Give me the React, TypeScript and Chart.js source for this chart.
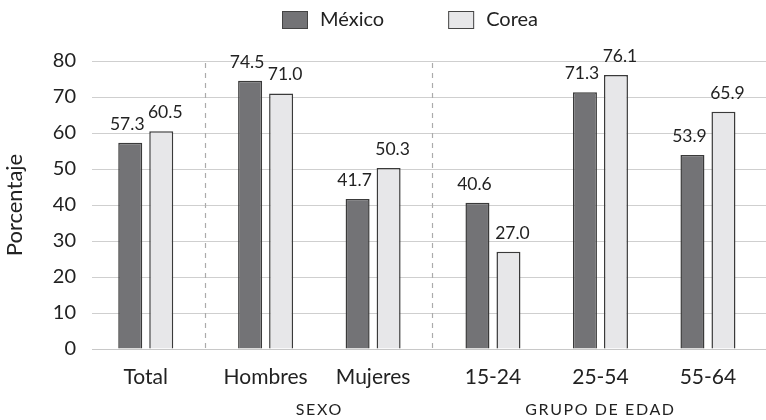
import React, { useEffect, useRef } from 'react';
import { Chart, registerables } from 'chart.js';

Chart.register(...registerables);

const categories = ['Total', 'Hombres', 'Mujeres', '15-24', '25-54', '55-64'];
const categoryGroup = [0, 1, 1, 2, 2, 2];
const groupLabels = ['', 'SEXO', 'GRUPO DE EDAD'];
const seriesNames = ['México', 'Corea'];
const mexico = [57.3, 74.5, 41.7, 40.6, 71.3, 53.9];
const corea = [60.5, 71.0, 50.3, 27.0, 76.1, 65.9];
const yMin = 0;
const yMax = 80;
const yStep = 10;

const FONT = 'Lato, "Noto Sans", sans-serif';
const GROUP_GAP = 0.115;
const positions = categories.map((_, i) => i + GROUP_GAP * categoryGroup[i]);
const colors = ['#737376', '#e7e7e9'];
const borderColor = '#3a3a3a';
const textColor = '#222222';

const overlayPlugin = {
  id: 'overlay',
  beforeDatasetsDraw(chart: any) {
    const { ctx, chartArea, scales } = chart;
    const xs = scales.x;
    ctx.save();
    ctx.strokeStyle = '#ababab';
    ctx.lineWidth = 1.2;
    ctx.setLineDash([5, 5]);
    for (let i = 1; i < positions.length; i++) {
      if (categoryGroup[i] !== categoryGroup[i - 1]) {
        const x = Math.round(xs.getPixelForValue((positions[i] + positions[i - 1]) / 2)) - 0.5;
        ctx.beginPath();
        ctx.moveTo(x, chartArea.top + 2);
        ctx.lineTo(x, chartArea.bottom);
        ctx.stroke();
      }
    }
    ctx.restore();
  },
  afterDatasetsDraw(chart: any) {
    const { ctx } = chart;
    ctx.save();
    ctx.font = `17.5px ${FONT}`;
    ctx.fillStyle = textColor;
    ctx.textAlign = 'center';
    ctx.textBaseline = 'alphabetic';
    chart.data.datasets.forEach((ds: any, di: number) => {
      const meta = chart.getDatasetMeta(di);
      meta.data.forEach((el: any, i: number) => {
        const v = ds.data[i].y;
        const off = di === 0 ? -3 : 4;
        ctx.fillText(v.toFixed(1), el.x + off, el.y - 13);
      });
    });
    ctx.restore();
  },
  afterDraw(chart: any) {
    const { ctx, scales } = chart;
    const xs = scales.x;
    ctx.save();
    // group labels
    ctx.font = `16px ${FONT}`;
    ctx.fillStyle = textColor;
    ctx.textAlign = 'center';
    ctx.textBaseline = 'middle';
    try { (ctx as any).letterSpacing = '1.6px'; } catch (e) {}
    groupLabels.forEach((label, g) => {
      if (!label) return;
      const idx = categoryGroup.map((cg, i) => (cg === g ? i : -1)).filter((i) => i >= 0);
      const x0 = xs.getPixelForValue(positions[idx[0]]);
      const x1 = xs.getPixelForValue(positions[idx[idx.length - 1]]);
      ctx.fillText(label, (x0 + x1) / 2, 410);
    });
    try { (ctx as any).letterSpacing = '0px'; } catch (e) {}
    // legend
    ctx.font = `20px ${FONT}`;
    ctx.textAlign = 'left';
    ctx.textBaseline = 'middle';
    let x = 282;
    seriesNames.forEach((name, i) => {
      ctx.fillStyle = colors[i];
      ctx.fillRect(x, 11, 26, 18);
      ctx.strokeStyle = '#444';
      ctx.lineWidth = 1;
      ctx.strokeRect(x + 0.5, 11.5, 25, 17);
      ctx.fillStyle = textColor;
      ctx.fillText(name, x + 38, 20);
      x += 38 + ctx.measureText(name).width + 64;
    });
    ctx.restore();
  },
};

export default function App() {
  const ref = useRef<HTMLCanvasElement | null>(null);
  useEffect(() => {
    document.body.style.margin = '0';
    if (!ref.current) return;
    const yTicks: number[] = [];
    for (let v = yMin; v <= yMax; v += yStep) yTicks.push(v);
    const chart = new Chart(ref.current, {
      type: 'bar',
      data: {
        datasets: [mexico, corea].map((vals, di) => ({
          label: seriesNames[di],
          data: vals.map((v, i) => ({ x: positions[i], y: v })),
          backgroundColor: colors[di],
          borderColor: borderColor,
          borderWidth: 1.5,
          categoryPercentage: 0.577,
          barPercentage: 0.774,
        })) as any,
      },
      options: {
        responsive: false,
        animation: false,
        layout: { padding: { top: 61, right: 0, bottom: 31, left: 0 } },
        plugins: { legend: { display: false }, tooltip: { enabled: false } },
        scales: {
          x: {
            type: 'linear',
            min: -0.5,
            max: 5.77,
            offset: false,
            grid: { display: false },
            border: { display: true, color: '#c8c8c8', width: 1 },
            afterBuildTicks: (s: any) => {
              s.ticks = positions.map((p) => ({ value: p }));
            },
            afterFit: (s: any) => {
              s.height = 40;
            },
            ticks: {
              autoSkip: false,
              maxRotation: 0,
              padding: 8,
              color: textColor,
              font: { family: FONT, size: 21 },
              callback: (_v: any, i: number) => categories[i],
            },
          },
          y: {
            min: yMin,
            max: yMax,
            afterBuildTicks: (s: any) => {
              s.ticks = yTicks.map((v) => ({ value: v }));
            },
            afterFit: (s: any) => {
              s.width = 92;
            },
            grid: { color: '#cfcfcf', drawTicks: false, lineWidth: 1 },
            border: { display: false },
            ticks: {
              padding: 16,
              color: textColor,
              font: { family: FONT, size: 20 },
            },
            title: {
              display: true,
              text: 'Porcentaje',
              color: textColor,
              font: { family: FONT, size: 22 },
              padding: { top: 2, bottom: 0 },
            },
          },
        },
      },
      plugins: [overlayPlugin],
    });
    return () => chart.destroy();
  }, []);
  return (
    <div style={{ width: 766, height: 420 }}>
      <canvas ref={ref} width={766} height={420} style={{ display: 'block' }} />
    </div>
  );
}
